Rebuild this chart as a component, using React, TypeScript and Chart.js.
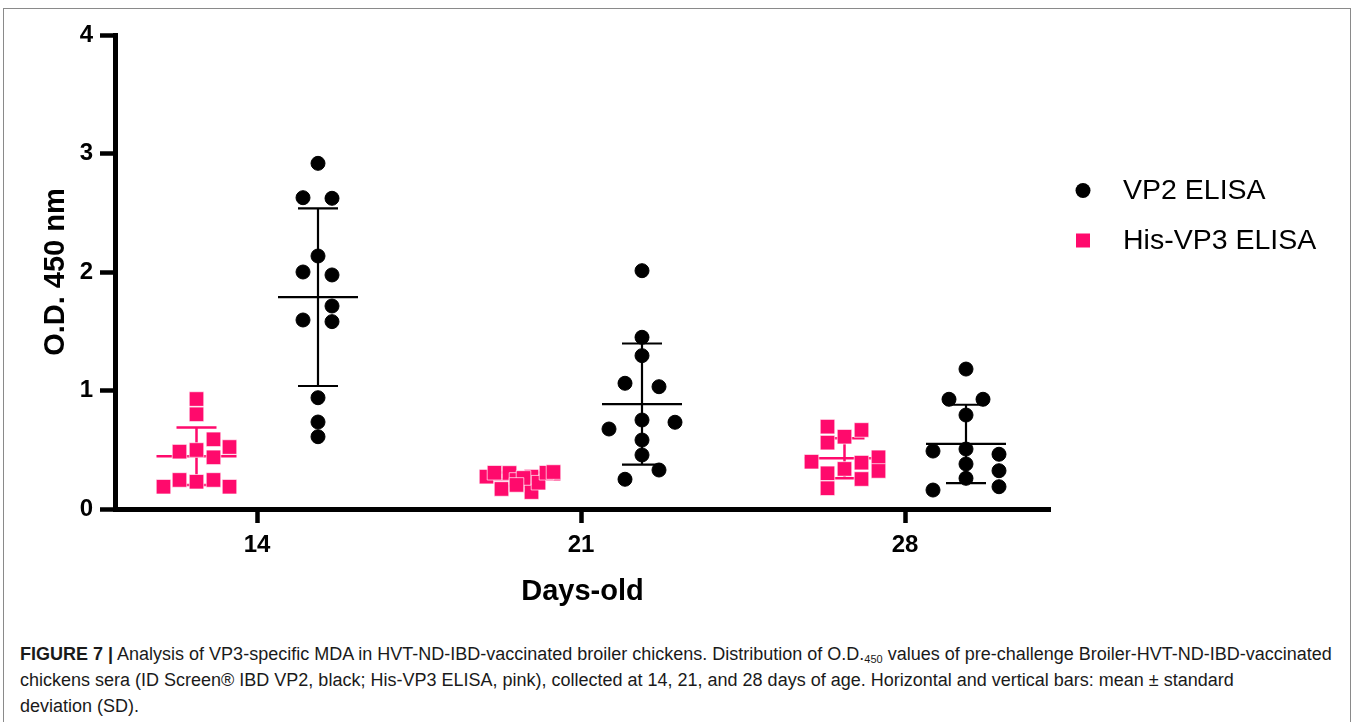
import React, { useEffect, useRef } from 'react';
import { Chart, registerables } from 'chart.js';

Chart.register(...registerables);

// ---------------- data ----------------
const CATEGORIES = ['14', '21', '28'];
const SERIES_LABELS = ['VP2 ELISA', 'His-VP3 ELISA'];
const Y_TICKS = [0, 1, 2, 3, 4];

// O.D. 450 values, one array per age group
const VP2_D14 = [2.917, 2.627, 2.622, 2.135, 2.0, 1.975, 1.713, 1.595, 1.581, 0.939, 0.734, 0.61];
const VP2_D21 = [2.011, 1.449, 1.294, 1.061, 1.032, 0.751, 0.675, 0.732, 0.582, 0.456, 0.329, 0.251];
const VP2_D28 = [1.181, 0.926, 0.926, 0.793, 0.489, 0.506, 0.462, 0.38, 0.323, 0.259, 0.16, 0.188];
const HIS_D14 = [0.928, 0.799, 0.588, 0.523, 0.484, 0.498, 0.436, 0.245, 0.23, 0.245, 0.188, 0.188];
const HIS_D21 = [0.273, 0.306, 0.169, 0.304, 0.245, 0.273, 0.143, 0.222, 0.306, 0.312, 0.262, 0.203];
const HIS_D28 = [0.695, 0.667, 0.61, 0.56, 0.399, 0.391, 0.436, 0.321, 0.301, 0.338, 0.253, 0.175];

// horizontal spread of the scatter points around their group centre (px)
const VP2_D14_SPREAD = [0, -15, 14, 0, -15, 14, 14, -15, 14, 0, 0, 0];
const VP2_D21_SPREAD = [0, 0, 0, -17, 17, 0, -33, 33, 0, 0, 17, -17];
const VP2_D28_SPREAD = [0, -17, 17, 0, -33, 0, 33, 0, 33, 0, -33, 33];
const HIS_D14_SPREAD = [0, 0, 17, 33, -17, 0, 17, -17, 0, 17, -33, 33];
const HIS_D21_SPREAD = [-34, -26, -19, -11, -4, 11, 11, 18, 26, 33, 3, -4];
const HIS_D28_SPREAD = [-17, 17, 0, -17, -33, 17, 34, 34, -17, 0, 17, -17];

const VP2_GROUPS = [VP2_D14, VP2_D21, VP2_D28];
const HIS_GROUPS = [HIS_D14, HIS_D21, HIS_D28];
const VP2_SPREADS = [VP2_D14_SPREAD, VP2_D21_SPREAD, VP2_D28_SPREAD];
const HIS_SPREADS = [HIS_D14_SPREAD, HIS_D21_SPREAD, HIS_D28_SPREAD];

// ---------------- styling ----------------
const FONT = "'Liberation Sans', Arial, Helvetica, sans-serif";
const BLACK = '#000000';
const PINK = '#FF0A6C';
const PX_PER_CAT = 324; // pixels between categories on the x axis
const VP2_SHIFT = 61 / PX_PER_CAT;
const HIS_SHIFT = -60.5 / PX_PER_CAT;
const MEAN_HALF = 40 / PX_PER_CAT;
const CAP_HALF = 20 / PX_PER_CAT;

function stats(vals: number[]) {
  const n = vals.length;
  const m = vals.reduce((a, b) => a + b, 0) / n;
  const sd = Math.sqrt(vals.reduce((a, b) => a + (b - m) * (b - m), 0) / (n - 1));
  return { m, sd };
}

function points(groups: number[][], spreads: number[][], shift: number) {
  const out: { x: number; y: number }[] = [];
  groups.forEach((vals, i) => {
    vals.forEach((v, k) => out.push({ x: i + shift + (spreads[i][k] || 0) / PX_PER_CAT, y: v }));
  });
  return out;
}

function errorBars(groups: number[][], shift: number) {
  const out: { x: number; y: number | null }[] = [];
  groups.forEach((vals, i) => {
    const c = i + shift;
    const { m, sd } = stats(vals);
    out.push({ x: c - MEAN_HALF, y: m }, { x: c + MEAN_HALF, y: m }, { x: c, y: null });
    out.push({ x: c, y: m - sd }, { x: c, y: m + sd }, { x: c, y: null });
    out.push({ x: c - CAP_HALF, y: m + sd }, { x: c + CAP_HALF, y: m + sd }, { x: c, y: null });
    out.push({ x: c - CAP_HALF, y: m - sd }, { x: c + CAP_HALF, y: m - sd }, { x: c, y: null });
  });
  return out;
}

const sideLegend = {
  id: 'sideLegend',
  afterDraw(chart: any) {
    const { ctx, chartArea } = chart;
    const items = chart.data.datasets.filter((d: any) => !d.isErrorBar);
    items.forEach((ds: any, i: number) => {
      const cy = chartArea.top + 155.5 + i * 50;
      const cx = chartArea.right + 33;
      ctx.save();
      ctx.fillStyle = ds.backgroundColor;
      if (ds.pointStyle === 'rect') {
        ctx.fillRect(cx - 7, cy - 7, 14, 14);
      } else {
        ctx.beginPath();
        ctx.arc(cx, cy, 7.5, 0, Math.PI * 2);
        ctx.fill();
      }
      ctx.fillStyle = '#000';
      ctx.font = `28.5px ${FONT}`;
      ctx.textBaseline = 'alphabetic';
      ctx.textAlign = 'left';
      ctx.fillText(ds.label, chartArea.right + 73, cy + 8);
      ctx.restore();
    });
  },
};

function ChartCanvas() {
  const ref = useRef<HTMLCanvasElement | null>(null);
  useEffect(() => {
    if (!ref.current) return;
    const chart = new Chart(ref.current, {
      type: 'scatter',
      data: {
        datasets: [
          {
            type: 'line',
            label: '',
            isErrorBar: true,
            data: errorBars(HIS_GROUPS, HIS_SHIFT),
            borderColor: PINK,
            borderWidth: 2.5,
            pointRadius: 0,
            pointHoverRadius: 0,
            fill: false,
            tension: 0,
            spanGaps: false,
            order: 3,
          } as any,
          {
            type: 'line',
            label: '',
            isErrorBar: true,
            data: errorBars(VP2_GROUPS, VP2_SHIFT),
            borderColor: BLACK,
            borderWidth: 2.2,
            pointRadius: 0,
            pointHoverRadius: 0,
            fill: false,
            tension: 0,
            spanGaps: false,
            order: 3,
          } as any,
          {
            label: SERIES_LABELS[0],
            data: points(VP2_GROUPS, VP2_SPREADS, VP2_SHIFT),
            pointStyle: 'circle',
            pointRadius: 7,
            borderWidth: 1,
            backgroundColor: BLACK,
            borderColor: BLACK,
            order: 1,
          },
          {
            label: SERIES_LABELS[1],
            data: points(HIS_GROUPS, HIS_SPREADS, HIS_SHIFT),
            pointStyle: 'rect',
            pointRadius: 10.3,
            borderWidth: 0.8,
            backgroundColor: PINK,
            borderColor: 'rgba(255,255,255,0.85)',
            order: 2,
          },
        ],
      },
      options: {
        responsive: false,
        animation: false,
        events: [],
        layout: { padding: { top: 35, right: 308, bottom: 0, left: 0 } },
        plugins: { legend: { display: false }, tooltip: { enabled: false } },
        scales: {
          x: {
            type: 'linear',
            min: -142 / PX_PER_CAT,
            max: 2 + 145 / PX_PER_CAT,
            afterBuildTicks: (s: any) => {
              s.ticks = CATEGORIES.map((_, i) => ({ value: i }));
            },
            afterFit: (s: any) => {
              s.height = 116;
            },
            ticks: {
              autoSkip: false,
              maxRotation: 0,
              padding: 8,
              color: '#000',
              font: { family: FONT, size: 24, weight: 'bold' },
              callback: (v: any) => CATEGORIES[Math.round(Number(v))],
            },
            grid: { drawOnChartArea: false, drawTicks: true, tickLength: 14, tickWidth: 4.5, tickColor: '#000' },
            border: { display: true, color: '#000', width: 5 },
            title: {
              display: true,
              text: 'Days-old',
              color: '#000',
              font: { family: FONT, size: 29, weight: 'bold' },
              padding: { top: 0, bottom: 16 },
            },
          },
          y: {
            type: 'linear',
            min: Y_TICKS[0],
            max: Y_TICKS[Y_TICKS.length - 1],
            afterBuildTicks: (s: any) => {
              s.ticks = Y_TICKS.map((v) => ({ value: v }));
            },
            afterFit: (s: any) => {
              s.width = 115;
            },
            ticks: {
              padding: 7,
              color: '#000',
              font: { family: FONT, size: 24, weight: 'bold' },
              callback: (v: any) => String(v),
            },
            grid: { drawOnChartArea: false, drawTicks: true, tickLength: 15, tickWidth: 4.5, tickColor: '#000' },
            border: { display: true, color: '#000', width: 5 },
            title: {
              display: true,
              text: 'O.D. 450 nm',
              color: '#000',
              font: { family: FONT, size: 29, weight: 'bold' },
              padding: { top: 39, bottom: 0 },
            },
          },
        },
      } as any,
      plugins: [sideLegend],
    });
    return () => chart.destroy();
  }, []);
  return <canvas ref={ref} width={1358} height={625} style={{ position: 'absolute', left: 0, top: 0, width: 1358, height: 625 }} />;
}

const CAPTION_FONT = "'Liberation Sans', Arial, sans-serif";

export default function App() {
  const line: React.CSSProperties = { whiteSpace: 'nowrap', display: 'block', height: 26, lineHeight: '26px' };
  return (
    <div style={{ position: 'fixed', left: 0, top: 0, width: 1358, height: 722, background: '#fff', overflow: 'hidden' }}>
      <div style={{ position: 'absolute', left: 3, top: 8, width: 1348, height: 730, border: '1px solid #8a8a8a', boxSizing: 'border-box' }} />
      <ChartCanvas />
      <div style={{ position: 'absolute', left: 20, top: 641, fontFamily: CAPTION_FONT, fontSize: 18, color: '#1a1a1a' }}>
        <span style={line}>
          <b>FIGURE 7 |</b> Analysis of VP3-specific MDA in HVT-ND-IBD-vaccinated broiler chickens. Distribution of O.D.
          <sub style={{ fontSize: 11, verticalAlign: -3 }}>450</sub> values of pre-challenge Broiler-HVT-ND-IBD-vaccinated
        </span>
        <span style={line}>
          chickens sera (ID Screen® IBD VP2, black; His-VP3 ELISA, pink), collected at 14, 21, and 28 days of age. Horizontal and vertical bars: mean ± standard
        </span>
        <span style={line}>deviation (SD).</span>
      </div>
    </div>
  );
}
